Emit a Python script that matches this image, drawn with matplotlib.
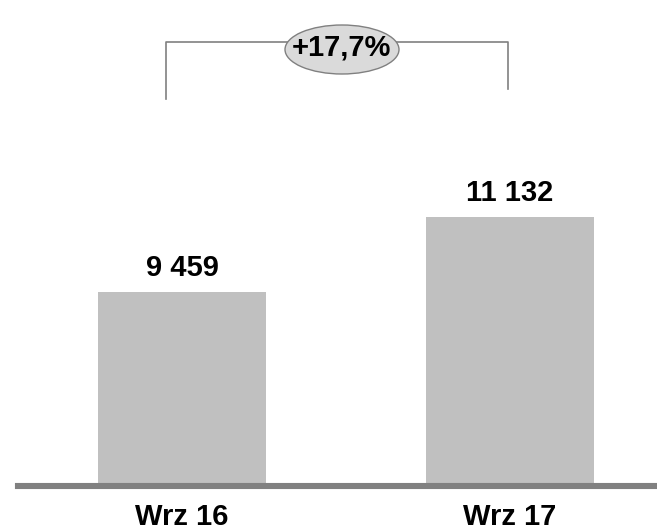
import matplotlib
matplotlib.use('Agg')
import matplotlib.pyplot as plt
from matplotlib.patches import Ellipse

# chart data
categories = ['Wrz 16', 'Wrz 17']
values = [9459, 11132]
value_labels = ['9 459', '11 132']
change_label = '+17,7%'

plt.rcParams['font.family'] = ['Liberation Sans', 'DejaVu Sans']

W, H = 657, 532
fig = plt.figure(figsize=(W / 100, H / 100), dpi=100)
# axes from x=18px to right edge, baseline at y=486px
ax = fig.add_axes([18 / W, (H - 486) / H, 1 - 18 / W, 486 / H])

x = list(range(len(categories)))
ax.bar(x, values, width=0.512, color='#c0c0c0', zorder=2)
ax.set_xlim(-0.5, 1.448)
ax.set_ylim(5132, 15973)

for xi, v, lab in zip(x, values, value_labels):
    ax.annotate(lab, (xi, v), xytext=(0, 11.5), textcoords='offset points',
                ha='center', va='baseline', fontsize=21, fontweight='bold')

ax.set_xticks(x)
ax.set_xticklabels(categories, fontsize=21, fontweight='bold')
ax.tick_params(axis='x', length=0, pad=12)
ax.set_yticks([])
for s in ['top', 'left', 'right']:
    ax.spines[s].set_visible(False)
ax.spines['bottom'].set_color('#808080')
ax.spines['bottom'].set_linewidth(4.4)
ax.spines['bottom'].set_zorder(3)

# bracket with change bubble
tr = ax.get_xaxis_transform()
y_top = 1 - 42 / 486
ax.plot([x[0] - 0.049, x[0] - 0.049, x[1] - 0.006, x[1] - 0.006],
        [1 - 99 / 486, y_top, y_top, 1 - 89 / 486],
        transform=tr, color='#808080', lw=1.2, clip_on=False)
ell = Ellipse((342 / W, 1 - 49.5 / H), 114 / W, 49 / H, transform=fig.transFigure,
              facecolor='#dadada', edgecolor='#808080', lw=1.0, zorder=5)
fig.patches.append(ell)
fig.text(341 / W, 1 - 47 / H, change_label, ha='center', va='center',
         fontsize=21, fontweight='bold', zorder=6)

fig.savefig('out.png', dpi=100)
